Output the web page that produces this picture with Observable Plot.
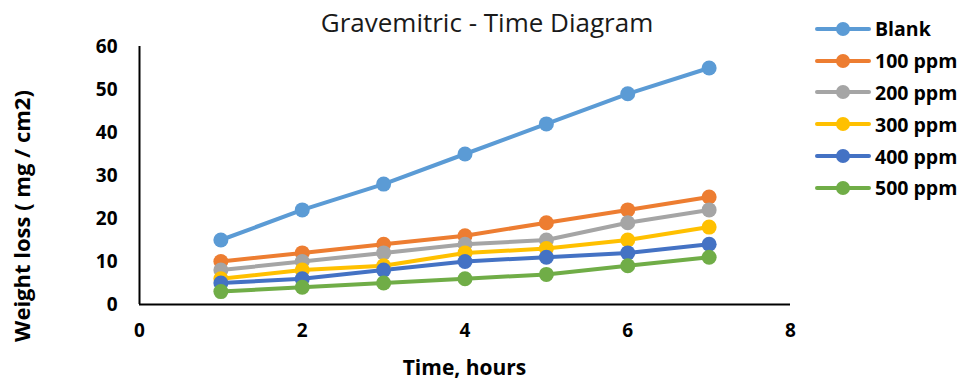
<!DOCTYPE html>
<html>
<head>
<meta charset="utf-8">
<script src="https://cdn.jsdelivr.net/npm/d3@7"></script>
<script src="https://cdn.jsdelivr.net/npm/@observablehq/plot@0.6"></script>
<style>
  html, body { margin: 0; padding: 0; background: #fff; }
  #wrap { position: relative; width: 963px; height: 382px; font-family: "Open Sans", sans-serif; overflow: hidden; }
  #title { position: absolute; left: 0; width: 974px; top: 2px; text-align: center;
           font-size: 26px; color: #1a1a1a; line-height: 40px; }
  #xlabel { position: absolute; left: 139px; width: 651px; top: 352px; text-align: center;
            font-size: 21px; font-weight: bold; line-height: 30px; }
  #ylabel { position: absolute; left: 21px; top: 216px; width: 300px; margin-left: -150px; margin-top: -15px;
            text-align: center; font-size: 22px; font-weight: bold; line-height: 30px;
            transform: rotate(-90deg); white-space: nowrap; }
  #legend { position: absolute; left: 814px; top: 13px; }
  .item { display: flex; align-items: center; height: 31.8px; font-weight: bold; font-size: 19.5px; color: #000; }
  .item svg { margin-right: 3px; }
</style>
</head>
<body>
<div id="wrap">
  <div id="chart"></div>
  <div id="title">Gravemitric - Time Diagram</div>
  <div id="xlabel">Time, hours</div>
  <div id="ylabel">Weight loss ( mg / cm2)</div>
  <div id="legend"></div>
</div>
<script>
// Weight loss measured over time for each inhibitor concentration
const hours = [1, 2, 3, 4, 5, 6, 7];
const seriesNames = ["Blank", "100 ppm", "200 ppm", "300 ppm", "400 ppm", "500 ppm"];
const blank  = [15, 22, 28, 35, 42, 49, 55];
const ppm100 = [10, 12, 14, 16, 19, 22, 25];
const ppm200 = [8, 10, 12, 14, 15, 19, 22];
const ppm300 = [6, 8, 9, 12, 13, 15, 18];
const ppm400 = [5, 6, 8, 10, 11, 12, 14];
const ppm500 = [3, 4, 5, 6, 7, 9, 11];
const colors = ["#5B9BD5", "#ED7D31", "#A5A5A5", "#FFC000", "#4472C4", "#70AD47"];
const xTicks = [0, 2, 4, 6, 8];
const yTicks = [0, 10, 20, 30, 40, 50, 60];

const allSeries = [blank, ppm100, ppm200, ppm300, ppm400, ppm500];
const rows = [];
seriesNames.forEach((name, i) => {
  hours.forEach((h, j) => rows.push({series: name, time: h, loss: allSeries[i][j]}));
});

const chart = Plot.plot({
  width: 963,
  height: 382,
  marginLeft: 139,
  marginRight: 173,
  marginTop: 46,
  marginBottom: 78,
  style: {fontFamily: "'Open Sans', sans-serif", fontSize: "19px", fontWeight: "bold", color: "#000", background: "#fff"},
  x: {domain: [0, 8], ticks: xTicks, tickSize: 0, tickPadding: 19, label: null},
  y: {domain: [0, 60], ticks: yTicks, tickSize: 0, tickPadding: 22, label: null},
  color: {domain: seriesNames, range: colors},
  marks: [
    Plot.ruleX([0], {y1: 0, y2: 60, stroke: "#000", strokeWidth: 2}),
    Plot.ruleY([0], {x1: 0, x2: 8, stroke: "#000", strokeWidth: 2}),
    Plot.line(rows, {x: "time", y: "loss", z: "series", stroke: "series", strokeWidth: 4}),
    Plot.dot(rows, {x: "time", y: "loss", fill: "series", r: 7.5})
  ]
});
document.getElementById("chart").appendChild(chart);

// Legend: line-with-marker swatch followed by the series name
const legend = document.getElementById("legend");
seriesNames.forEach((name, i) => {
  const item = document.createElement("div");
  item.className = "item";
  item.innerHTML = `<svg width="58" height="18"><line x1="3" x2="55" y1="9" y2="9" stroke="${colors[i]}" stroke-width="4" stroke-linecap="round"/><circle cx="29" cy="9" r="7" fill="${colors[i]}"/></svg><span>${name}</span>`;
  legend.appendChild(item);
});
</script>
</body>
</html>
